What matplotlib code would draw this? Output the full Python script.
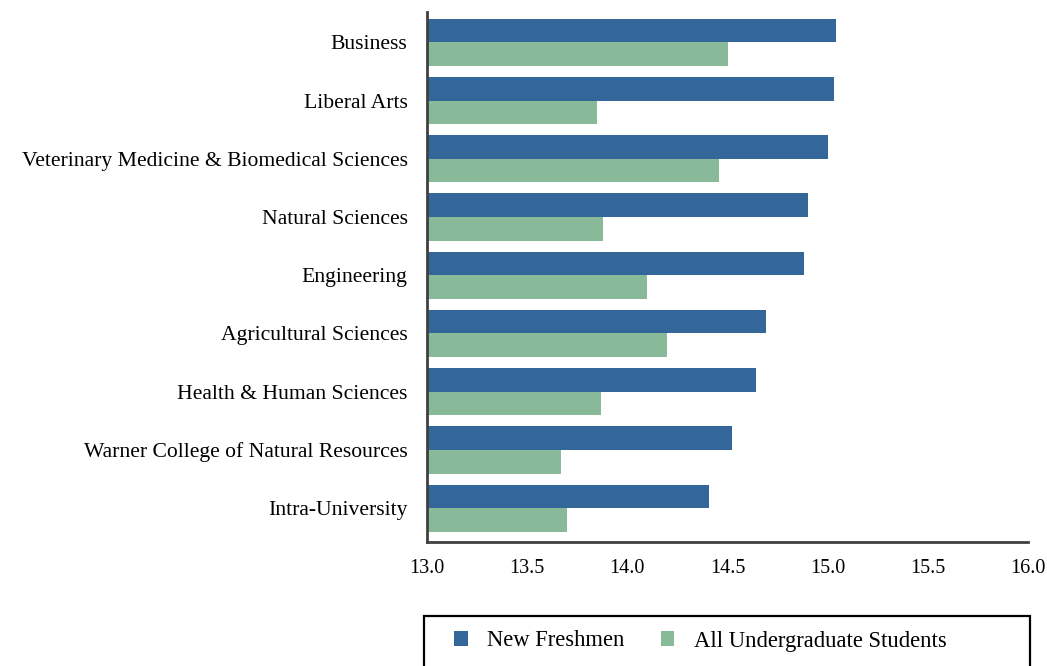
import numpy as np
import matplotlib.pyplot as plt
from matplotlib.patches import Rectangle

# -----------------------------
# Data (top to bottom as shown)
# -----------------------------
colleges = ['Business', 'Liberal Arts', 'Veterinary Medicine & Biomedical Sciences',
            'Natural Sciences', 'Engineering', 'Agricultural Sciences',
            'Health & Human Sciences', 'Warner College of Natural Resources',
            'Intra-University']
new_freshmen = [15.04, 15.03, 15.00, 14.90, 14.88, 14.69, 14.64, 14.52, 14.41]
all_undergrad = [14.50, 13.85, 14.46, 13.88, 14.10, 14.20, 13.87, 13.67, 13.70]
xticks = [13.0, 13.5, 14.0, 14.5, 15.0, 15.5, 16.0]

blue = '#336699'
green = '#88b999'

plt.rcParams['font.family'] = ['Liberation Serif', 'DejaVu Serif']

fig = plt.figure(figsize=(10.47, 6.66), dpi=100)
ax = fig.add_axes([427/1047, 1-542/666, (1028-427)/1047, (542-12)/666])

y = np.arange(len(colleges))
h = 0.405
base = 13.0
ax.barh(y - h/2, np.array(new_freshmen) - base, height=h, left=base,
        color=blue, label='New Freshmen')
ax.barh(y + h/2, np.array(all_undergrad) - base, height=h, left=base,
        color=green, label='All Undergraduate Students')

ax.set_xlim(13.0, 16.0)
ax.set_ylim(len(colleges) - 0.5 + 0.08, -0.5 - 0.02)
ax.set_yticks(y)
ax.set_yticklabels(colleges, fontsize=15.6)
ax.set_xticks(xticks)
ax.set_xticklabels([f'{t:.1f}' for t in xticks], fontsize=14.5)
ax.tick_params(axis='x', length=0, pad=12)
ax.tick_params(axis='y', length=0, pad=14)

for s in ['top', 'right']:
    ax.spines[s].set_visible(False)
for s in ['left', 'bottom']:
    ax.spines[s].set_color('#404040')
    ax.spines[s].set_linewidth(2)

# legend box drawn separately, entries sit at its left
box = Rectangle((424/1047, -0.01), (1030-424)/1047, (666-616)/666 + 0.01,
                transform=fig.transFigure, fill=False, edgecolor='black',
                linewidth=1.6, clip_on=False)
fig.add_artist(box)
fig.legend(loc='center left', ncol=2, bbox_to_anchor=(434/1047, 1-641/666),
           fontsize=16.3, frameon=False,
           handlelength=0.6, handleheight=0.6,
           columnspacing=1.6, handletextpad=0.85)

fig.savefig('out.png', dpi=100)
